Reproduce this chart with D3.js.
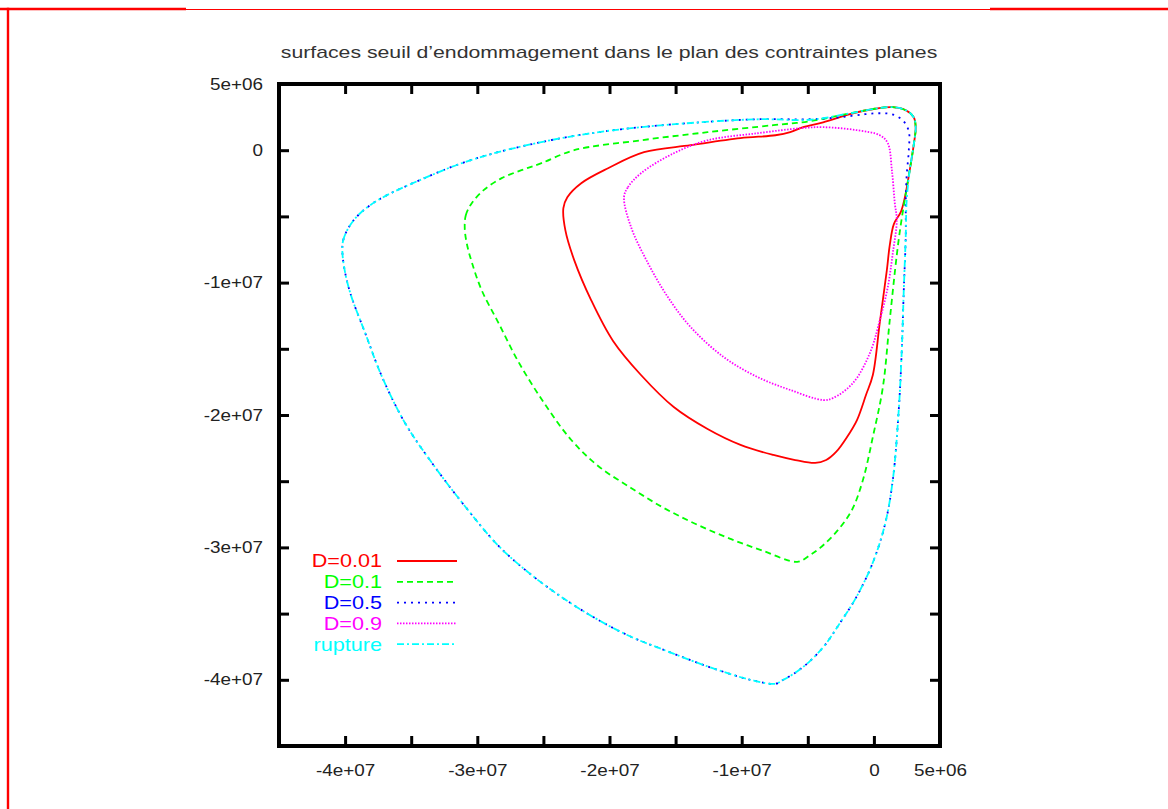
<!DOCTYPE html>
<html><head><meta charset="utf-8">
<script src="https://cdn.jsdelivr.net/npm/d3@7"></script>
<style>
body{margin:0;background:#fff}
svg{display:block}
text{font-family:"Liberation Sans",Arial,Helvetica,sans-serif}
</style>
</head><body>
<svg id="c" width="1168" height="809"></svg>
<script>
// values in units of 1e6 (Pa)
const UNIT = 1e6;
const titleText = "surfaces seuil d\u2019endommagement dans le plan des contraintes planes";
const seriesNames = ["D=0.01", "D=0.1", "D=0.5", "D=0.9", "rupture"];

const d001 = [[-23.49,-4.38],[-23.19,-3.55],[-22.14,-2.49],[-20.11,-1.36],[-17.39,-0.15],[-13.86,0.38],[-10.09,0.91],[-7.45,1.13],[-6.33,1.36],[-5.35,1.74],[-3.84,2.11],[-1.81,2.72],[0.08,3.13],[1.43,3.25],[2.41,3.02],[3.01,2.49],[3.16,1.74],[3.01,0.38],[2.71,-1.51],[2.33,-3.62],[2.03,-4.68],[1.51,-5.58],[1.20,-7.17],[0.98,-9.06],[0.45,-12.98],[-0.08,-16.98],[-0.60,-18.49],[-1.28,-20.38],[-2.03,-21.66],[-2.86,-22.79],[-3.61,-23.40],[-4.44,-23.62],[-5.95,-23.40],[-7.61,-23.02],[-10.09,-22.26],[-12.58,-21.06],[-15.14,-19.40],[-17.62,-16.98],[-19.73,-14.41],[-21.39,-11.32],[-22.67,-8.30],[-23.34,-6.04]];

const d01 = [[-30.95,-5.89],[-30.87,-4.91],[-30.42,-4.00],[-29.52,-3.02],[-28.16,-2.11],[-26.66,-1.51],[-25.15,-0.98],[-22.67,0.0],[-17.62,0.75],[-12.58,1.36],[-7.61,1.89],[-4.82,2.19],[-1.81,2.79],[0.08,3.13],[1.43,3.25],[2.41,3.02],[3.01,2.49],[3.16,1.74],[3.01,0.38],[2.71,-1.51],[2.33,-3.77],[2.03,-5.66],[1.73,-7.92],[1.20,-12.83],[0.68,-17.89],[-0.08,-21.66],[-0.83,-24.91],[-1.66,-27.17],[-2.71,-28.68],[-4.07,-30.04],[-4.82,-30.57],[-5.80,-31.09],[-8.36,-30.27],[-10.84,-29.36],[-13.33,-28.30],[-15.89,-27.02],[-18.37,-25.51],[-20.86,-23.85],[-22.89,-21.89],[-24.92,-19.13],[-26.88,-16.00],[-28.39,-13.06],[-29.67,-10.57],[-30.42,-8.45],[-30.80,-7.02]];

const d05 = [[-40.21,-7.55],[-40.14,-6.79],[-39.76,-5.89],[-39.08,-4.98],[-38.10,-4.15],[-36.97,-3.47],[-34.19,-2.19],[-31.17,-0.98],[-28.16,-0.08],[-23.64,0.91],[-19.13,1.58],[-13.10,2.11],[-8.58,2.34],[-4.82,2.34],[-2.56,2.49],[-0.68,2.72],[0.45,2.79],[1.36,2.72],[2.18,2.26],[2.64,1.43],[2.64,0.0],[2.48,-1.89],[2.41,-3.77],[2.41,-6.42],[2.26,-10.57],[2.11,-15.09],[1.88,-19.62],[1.43,-24.91],[0.83,-28.30],[-0.15,-31.32],[-1.36,-33.81],[-2.56,-35.70],[-3.69,-37.36],[-4.82,-38.57],[-5.95,-39.47],[-6.85,-40.00],[-7.45,-40.30],[-9.34,-40.00],[-11.82,-39.25],[-13.33,-38.72],[-15.89,-37.74],[-18.37,-36.75],[-20.86,-35.47],[-23.42,-33.89],[-25.90,-32.08],[-28.39,-29.89],[-30.95,-26.87],[-33.43,-23.62],[-35.47,-20.60],[-37.20,-17.13],[-38.48,-13.81],[-39.61,-10.79],[-40.06,-8.91]];

const d09 = [[-18.90,-3.55],[-18.60,-2.79],[-17.62,-1.74],[-15.14,-0.23],[-12.58,0.75],[-8.81,1.28],[-5.57,1.66],[-3.84,1.74],[-1.28,1.51],[0.45,1.13],[1.05,0.53],[1.36,-1.51],[1.58,-4.00],[1.73,-5.28],[1.43,-7.77],[1.05,-10.34],[0.45,-12.83],[-0.30,-15.32],[-1.58,-17.58],[-3.09,-18.72],[-3.84,-18.87],[-6.33,-18.11],[-8.81,-17.13],[-11.37,-15.62],[-13.86,-13.36],[-15.59,-11.09],[-17.09,-8.53],[-18.37,-5.81]];

const rupture = [[-40.21,-7.55],[-40.14,-6.79],[-39.76,-5.89],[-39.08,-4.98],[-38.10,-4.15],[-36.97,-3.47],[-34.19,-2.19],[-31.17,-0.98],[-28.16,-0.08],[-23.64,0.91],[-19.13,1.58],[-13.10,2.11],[-8.58,2.34],[-4.82,2.30],[-1.81,2.79],[0.08,3.13],[1.43,3.25],[2.41,3.02],[3.01,2.49],[3.16,1.74],[3.01,0.38],[2.71,-1.51],[2.48,-3.77],[2.41,-6.42],[2.26,-10.57],[2.11,-15.09],[1.88,-19.62],[1.43,-24.91],[0.83,-28.30],[-0.15,-31.32],[-1.36,-33.81],[-2.56,-35.70],[-3.69,-37.36],[-4.82,-38.57],[-5.95,-39.47],[-6.85,-40.00],[-7.45,-40.30],[-9.34,-40.00],[-11.82,-39.25],[-13.33,-38.72],[-15.89,-37.74],[-18.37,-36.75],[-20.86,-35.47],[-23.42,-33.89],[-25.90,-32.08],[-28.39,-29.89],[-30.95,-26.87],[-33.43,-23.62],[-35.47,-20.60],[-37.20,-17.13],[-38.48,-13.81],[-39.61,-10.79],[-40.06,-8.91]];

const xTickValues = [-40,-35,-30,-25,-20,-15,-10,-5,0];
const yTickValues = [0,-5,-10,-15,-20,-25,-30,-35,-40];
const xLabelValues = [-40,-30,-20,-10,0,5];
const xLabelTexts = ["-4e+07","-3e+07","-2e+07","-1e+07","0","5e+06"];
const yLabelValues = [5,0,-10,-20,-30,-40];
const yLabelTexts = ["5e+06","0","-1e+07","-2e+07","-3e+07","-4e+07"];

const allSeries = [d001, d01, d05, d09, rupture];
const colors = ["#ff0000","#00ff00","#0000ff","#ff00ff","#00ffff"];
const dashes = [null, "6,4", "2,5", "1.5,1.5", "7,3,2,3"];

const svg = d3.select("#c");
svg.append("rect").attr("width",1168).attr("height",809).attr("fill","#fff");

// page border (red)
svg.append("line").attr("x1",0).attr("x2",186).attr("y1",9).attr("y2",9).attr("stroke","#ff0000").attr("stroke-width",2.6);
svg.append("line").attr("x1",186).attr("x2",990).attr("y1",9.5).attr("y2",9.5).attr("stroke","#ff0000").attr("stroke-width",1.2);
svg.append("line").attr("x1",990).attr("x2",1168).attr("y1",9).attr("y2",9).attr("stroke","#ff0000").attr("stroke-width",2.6);
svg.append("line").attr("x1",8).attr("x2",8).attr("y1",7.7).attr("y2",809).attr("stroke","#ff0000").attr("stroke-width",2.4);

const L = 279, R = 940, T = 84, B = 746;
const x = d3.scaleLinear().domain([-45*UNIT, 5*UNIT]).range([L, R]);
const y = d3.scaleLinear().domain([-45*UNIT, 5*UNIT]).range([B, T]);

// title
svg.append("text").attr("transform","translate(609,58) scale(1.25,1)")
  .attr("text-anchor","middle").attr("font-size",17).attr("fill","#333").text(titleText);

// curves
const line = d3.line().x(d => x(d[0]*UNIT)).y(d => y(d[1]*UNIT)).curve(d3.curveCatmullRomClosed.alpha(0.5));
const gC = svg.append("g");
allSeries.forEach((s, i) => {
  gC.append("path").attr("d", line(s)).attr("fill","none")
    .attr("stroke", colors[i]).attr("stroke-width", 1.8)
    .attr("stroke-dasharray", dashes[i]);
});

// tick marks via axes
const tickStyle = g => { g.select(".domain").remove(); g.selectAll(".tick line").attr("stroke","#000").attr("stroke-width",3); };
svg.append("g").attr("transform",`translate(0,${B})`)
  .call(d3.axisBottom(x).tickValues(xTickValues.map(v=>v*UNIT)).tickSizeInner(-10).tickSizeOuter(0).tickFormat(""))
  .call(tickStyle);
svg.append("g").attr("transform",`translate(0,${T})`)
  .call(d3.axisTop(x).tickValues(xTickValues.map(v=>v*UNIT)).tickSizeInner(-10).tickSizeOuter(0).tickFormat(""))
  .call(tickStyle);
svg.append("g").attr("transform",`translate(${L},0)`)
  .call(d3.axisLeft(y).tickValues(yTickValues.map(v=>v*UNIT)).tickSizeInner(-10).tickSizeOuter(0).tickFormat(""))
  .call(tickStyle);
svg.append("g").attr("transform",`translate(${R},0)`)
  .call(d3.axisRight(y).tickValues(yTickValues.map(v=>v*UNIT)).tickSizeInner(-10).tickSizeOuter(0).tickFormat(""))
  .call(tickStyle);

// labels via axes
const xl = svg.append("g").attr("transform",`translate(0,${B})`)
  .call(d3.axisBottom(x).tickValues(xLabelValues.map(v=>v*UNIT)).tickSize(0).tickPadding(19)
    .tickFormat((d,i) => xLabelTexts[i]));
xl.select(".domain").remove();
xl.selectAll("text").attr("font-size",16).attr("fill","#222").attr("font-family",null)
  .attr("transform","scale(1.18,1)");
const yl = svg.append("g").attr("transform",`translate(${L},0)`)
  .call(d3.axisLeft(y).tickValues(yLabelValues.map(v=>v*UNIT)).tickSize(0).tickPadding(16)
    .tickFormat((d,i) => yLabelTexts[i]));
yl.select(".domain").remove();
yl.selectAll("text").attr("font-size",16).attr("fill","#222").attr("font-family",null)
  .attr("x",-16/1.18).attr("transform","scale(1.18,1)");

// frame
svg.append("rect").attr("x",L).attr("y",T).attr("width",R-L).attr("height",B-T)
  .attr("fill","none").attr("stroke","#000").attr("stroke-width",4);

// legend
const lg = svg.append("g");
seriesNames.forEach((n, i) => {
  const yy = 561 + i*20.8;
  lg.append("text").attr("transform",`translate(382,${yy}) scale(1.2,1)`)
    .attr("text-anchor","end").attr("dy","0.35em").attr("font-size",18).attr("fill",colors[i]).text(n);
  lg.append("line").attr("x1",397).attr("x2",457).attr("y1",yy).attr("y2",yy)
    .attr("stroke",colors[i]).attr("stroke-width",1.8).attr("stroke-dasharray",dashes[i]);
});
</script>
</body></html>
